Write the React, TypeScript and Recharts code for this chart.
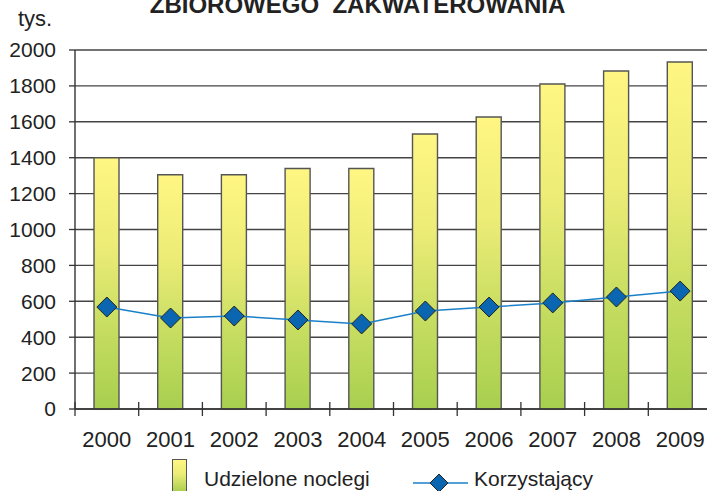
import React from 'react'
import {
  ComposedChart,
  Bar,
  Line,
  XAxis,
  YAxis,
  CartesianGrid,
} from 'recharts'

const years = ['2000', '2001', '2002', '2003', '2004', '2005', '2006', '2007', '2008', '2009']
const noclegi = [1400, 1305, 1305, 1340, 1340, 1532, 1627, 1811, 1883, 1933]
const korzystajacy = [568, 507, 518, 496, 474, 546, 568, 591, 624, 657]
const yTicks = [0, 200, 400, 600, 800, 1000, 1200, 1400, 1600, 1800, 2000]

const data = years.map((y, i) => ({
  year: y,
  noclegi: noclegi[i],
  korzystajacy: korzystajacy[i],
}))

const FONT = '"Liberation Sans", Arial, sans-serif'
const CHART_W = 712
const Y_AXIS_W = 75
const STEP = (CHART_W - Y_AXIS_W) / years.length

// Excel-style tick: label under the category, separator mark between categories
function XTick(props: any) {
  const { x, y, payload } = props
  const sx = x - STEP / 2
  return (
    <g>
      <line x1={sx} x2={sx} y1={y - 7} y2={y + 7} stroke="#333" strokeWidth={1.3} />
      <text
        x={x}
        y={y + 38}
        textAnchor="middle"
        fontSize={22}
        fontFamily={FONT}
        fill="#222"
      >
        {payload.value}
      </text>
    </g>
  )
}

function Diamond(props: any) {
  const { cx, cy } = props
  if (cx == null || cy == null) return null
  const r = 10
  return (
    <polygon
      points={`${cx},${cy - r} ${cx + r},${cy} ${cx},${cy + r} ${cx - r},${cy}`}
      fill="#0a66b0"
      stroke="#222"
      strokeWidth={1}
    />
  )
}

export default function App() {
  return (
    <div
      style={{
        position: 'absolute',
        left: 0,
        top: 0,
        width: 707,
        height: 491,
        overflow: 'hidden',
        background: '#fff',
        fontFamily: FONT,
      }}
    >
      <div
        style={{
          position: 'absolute',
          left: 0,
          width: 707,
          top: -9,
          textAlign: 'center',
          fontWeight: 'bold',
          fontSize: 24,
          color: '#222',
          whiteSpace: 'pre',
          paddingLeft: 4,
        }}
      >
        ZBIOROWEGO  ZAKWATEROWANIA
      </div>
      <div
        style={{
          position: 'absolute',
          left: 18,
          top: 6,
          fontSize: 22,
          color: '#222',
        }}
      >
        tys.
      </div>

      <ComposedChart
        width={CHART_W}
        height={491}
        data={data}
        margin={{ top: 50, right: 0, left: 0, bottom: 42 }}
        style={{ position: 'absolute', left: 0, top: 0 }}
      >
        <defs>
          <linearGradient id="barGrad" x1="0" y1="0" x2="0" y2="1">
            <stop offset="0%" stopColor="#fff683" />
            <stop offset="35%" stopColor="#ecec77" />
            <stop offset="70%" stopColor="#c4dc5f" />
            <stop offset="100%" stopColor="#a8cf4f" />
          </linearGradient>
        </defs>
        <CartesianGrid vertical={false} stroke="#444" strokeWidth={1.4} />
        <XAxis
          dataKey="year"
          tick={<XTick />}
          tickLine={false}
          tickSize={0}
          tickMargin={0}
          height={40}
          axisLine={{ stroke: '#333', strokeWidth: 1.4 }}
          interval={0}
        />
        <YAxis
          domain={[0, 2000]}
          ticks={yTicks}
          width={Y_AXIS_W}
          tickSize={6}
          tickMargin={13}
          tickLine={{ stroke: '#333', strokeWidth: 1.3 }}
          axisLine={{ stroke: '#333', strokeWidth: 1.4 }}
          tick={{ fontSize: 21, fill: '#222', fontFamily: FONT }}
          interval={0}
        />
        <Bar
          dataKey="noclegi"
          barSize={25}
          fill="url(#barGrad)"
          stroke="#555"
          strokeWidth={1.4}
          isAnimationActive={false}
        />
        <Line
          dataKey="korzystajacy"
          stroke="#1a80c8"
          strokeWidth={1.5}
          dot={<Diamond />}
          activeDot={false}
          isAnimationActive={false}
        />
      </ComposedChart>

      {/* Legend */}
      <div
        style={{
          position: 'absolute',
          left: 172,
          top: 459,
          width: 13,
          height: 40,
          border: '1.4px solid #555',
          background: 'linear-gradient(#fff683, #ecec77 35%, #a8cf4f 80%)',
        }}
      />
      <div
        style={{
          position: 'absolute',
          left: 204,
          top: 467,
          fontSize: 21,
          color: '#222',
          whiteSpace: 'nowrap',
        }}
      >
        Udzielone noclegi
      </div>
      <svg
        width={60}
        height={24}
        style={{ position: 'absolute', left: 410, top: 471 }}
      >
        <line x1={3} x2={58} y1={12} y2={12} stroke="#1a80c8" strokeWidth={1.5} />
        <polygon points="29,3 38,12 29,21 20,12" fill="#0a66b0" stroke="#222" strokeWidth={1} />
      </svg>
      <div
        style={{
          position: 'absolute',
          left: 474,
          top: 467,
          fontSize: 21,
          color: '#222',
          whiteSpace: 'nowrap',
        }}
      >
        Korzystający
      </div>
    </div>
  )
}
